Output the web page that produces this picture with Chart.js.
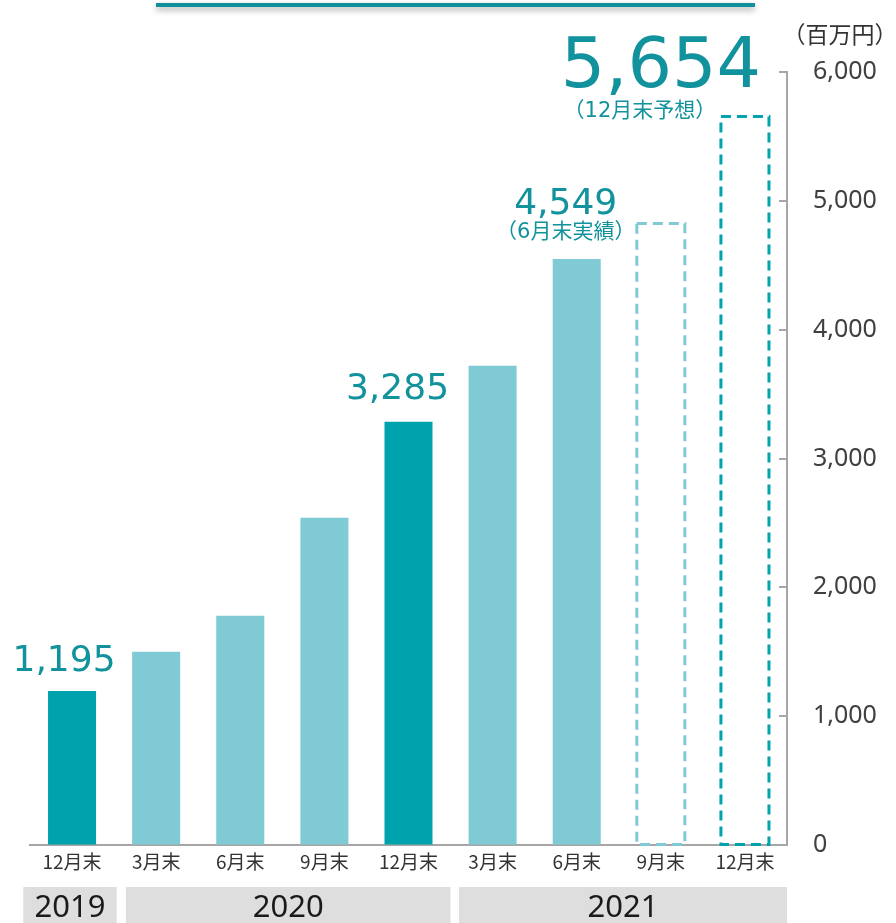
<!DOCTYPE html>
<html>
<head>
<meta charset="utf-8">
<script src="https://cdn.jsdelivr.net/npm/chart.js@4"></script>
<style>
html,body{margin:0;padding:0;background:#fff;}
#wrap{width:896px;height:923px;position:relative;overflow:hidden;}
</style>
</head>
<body>
<div id="wrap"><canvas id="c" width="896" height="923"></canvas></div>
<script>
// ---- data ----
const categories = ['12月末','3月末','6月末','9月末','12月末','3月末','6月末','9月末','12月末'];
const values = [1195, 1500, 1780, 2540, 3285, 3719, 4549, 4825, 5654];
const isYearEnd = [true, false, false, false, true, false, false, false, true];
const isForecast = [false, false, false, false, false, false, false, true, true];
const years = ['2019', '2020', '2021'];
const yearFirstIndex = [0, 1, 5];
const yearLastIndex = [0, 4, 8];
const calloutIndex = [0, 4, 6, 8];
const calloutNote = ['', '', '（6月末実績）', '（12月末予想）'];
const unitLabel = '（百万円）';
const yMin = 0, yMax = 6000, yStep = 1000;

// ---- styles ----
const DARK = '#00a3ad';
const LIGHT = '#80cad6';
const TEXT_TEAL = '#11929c';
const AXIS = '#a6a6a6';
const CJK = '"Noto Sans CJK JP", "Noto Sans", sans-serif';
const NUM = '"DejaVu Sans", "Noto Sans CJK JP", sans-serif';

const calloutStyle = [
  {size: 36, dx: -8, dy: -20},
  {size: 36, dx: -11, dy: -23},
  {size: 36, dx: -11, dy: -45, noteSize: 21, ndx: -11, ndy: -26},
  {size: 70, dx: -84, dy: -30, noteSize: 21, ndx: -105, ndy: -5}
];
// year band edges in category-index units (left offset, right offset)
const bandOffsets = [[-0.58, 0.53], [-0.36, 0.5], [-0.4, 0.5]];

const fmt = v => v.toLocaleString('en-US');

const decor = {
  id: 'decor',
  afterDatasetsDraw(chart) {
    const ctx = chart.ctx;
    const xs = chart.scales.x, ys = chart.scales.y;
    const meta = chart.getDatasetMeta(0);
    ctx.save();

    // dashed forecast bars
    meta.data.forEach((bar, i) => {
      if (!isForecast[i]) return;
      const p = bar.getProps(['x', 'y', 'base', 'width'], true);
      ctx.save();
      ctx.setLineDash([10, 6]);
      ctx.lineWidth = 3;
      ctx.strokeStyle = isYearEnd[i] ? DARK : LIGHT;
      ctx.strokeRect(p.x - p.width / 2, p.y, p.width, p.base - p.y);
      ctx.restore();
    });

    // y-axis inner tick marks
    ctx.strokeStyle = AXIS;
    ctx.lineWidth = 2;
    ys.ticks.forEach(t => {
      if (t.value === yMin) return;
      const y = Math.round(ys.getPixelForValue(t.value));
      ctx.beginPath();
      ctx.moveTo(ys.left - 8, y);
      ctx.lineTo(ys.left, y);
      ctx.stroke();
    });

    // callouts
    calloutIndex.forEach((idx, k) => {
      const bar = meta.data[idx].getProps(['x', 'y'], true);
      const st = calloutStyle[k];
      ctx.fillStyle = TEXT_TEAL;
      ctx.textAlign = 'center';
      ctx.textBaseline = 'alphabetic';
      ctx.font = st.size + 'px ' + NUM;
      ctx.fillText(fmt(values[idx]), bar.x + st.dx, bar.y + st.dy);
      if (calloutNote[k]) {
        ctx.font = st.noteSize + 'px ' + NUM;
        ctx.textBaseline = 'middle';
        ctx.fillText(calloutNote[k], bar.x + st.ndx, bar.y + st.ndy);
      }
    });

    // year bands
    const bandTop = 887, bandBottom = 923;
    years.forEach((yr, k) => {
      const l = xs.getPixelForValue(yearFirstIndex[k] + bandOffsets[k][0]);
      const r = xs.getPixelForValue(yearLastIndex[k] + bandOffsets[k][1]);
      ctx.fillStyle = '#dedede';
      ctx.fillRect(l, bandTop, r - l, bandBottom - bandTop);
      ctx.fillStyle = '#1a1a1a';
      ctx.font = '31px "Noto Sans", sans-serif';
      ctx.textAlign = 'center';
      ctx.textBaseline = 'middle';
      ctx.fillText(yr, (l + r) / 2, 908);
    });

    // unit label
    ctx.fillStyle = '#333';
    ctx.font = '23px ' + CJK;
    ctx.textAlign = 'center';
    ctx.textBaseline = 'middle';
    ctx.fillText(unitLabel, 840, 34);

    // top decorative line
    ctx.save();
    ctx.shadowColor = 'rgba(0,0,0,0.35)';
    ctx.shadowBlur = 6;
    ctx.shadowOffsetY = 3;
    ctx.strokeStyle = '#10909b';
    ctx.lineWidth = 4;
    ctx.beginPath();
    ctx.moveTo(156, 5);
    ctx.lineTo(755, 5);
    ctx.stroke();
    ctx.restore();

    ctx.restore();
  }
};

new Chart(document.getElementById('c').getContext('2d'), {
  type: 'bar',
  data: {
    labels: categories,
    datasets: [{
      data: values,
      backgroundColor: values.map((v, i) => isForecast[i] ? 'rgba(0,0,0,0)' : (isYearEnd[i] ? DARK : LIGHT)),
      borderWidth: 0,
      barPercentage: 0.571,
      categoryPercentage: 1
    }]
  },
  options: {
    responsive: false,
    animation: false,
    devicePixelRatio: 1,
    layout: {padding: {top: 72, left: 30, right: 0, bottom: 0}},
    plugins: {legend: {display: false}, tooltip: {enabled: false}},
    scales: {
      x: {
        grid: {display: true, drawOnChartArea: false, drawTicks: false},
        border: {display: true, color: AXIS, width: 2},
        ticks: {padding: 5, color: '#333', font: {family: CJK, size: 19}, maxRotation: 0, autoSkip: false},
        afterFit(s) { s.height = 78; }
      },
      y: {
        position: 'right',
        min: yMin, max: yMax,
        grid: {display: true, drawOnChartArea: false, drawTicks: false},
        border: {display: true, color: AXIS, width: 2},
        ticks: {stepSize: yStep, padding: 26, color: '#404040', font: {family: '"Noto Sans", sans-serif', size: 25}, callback: v => fmt(v)},
        afterFit(s) { s.width = 109; }
      }
    }
  },
  plugins: [decor]
});
</script>
</body>
</html>
